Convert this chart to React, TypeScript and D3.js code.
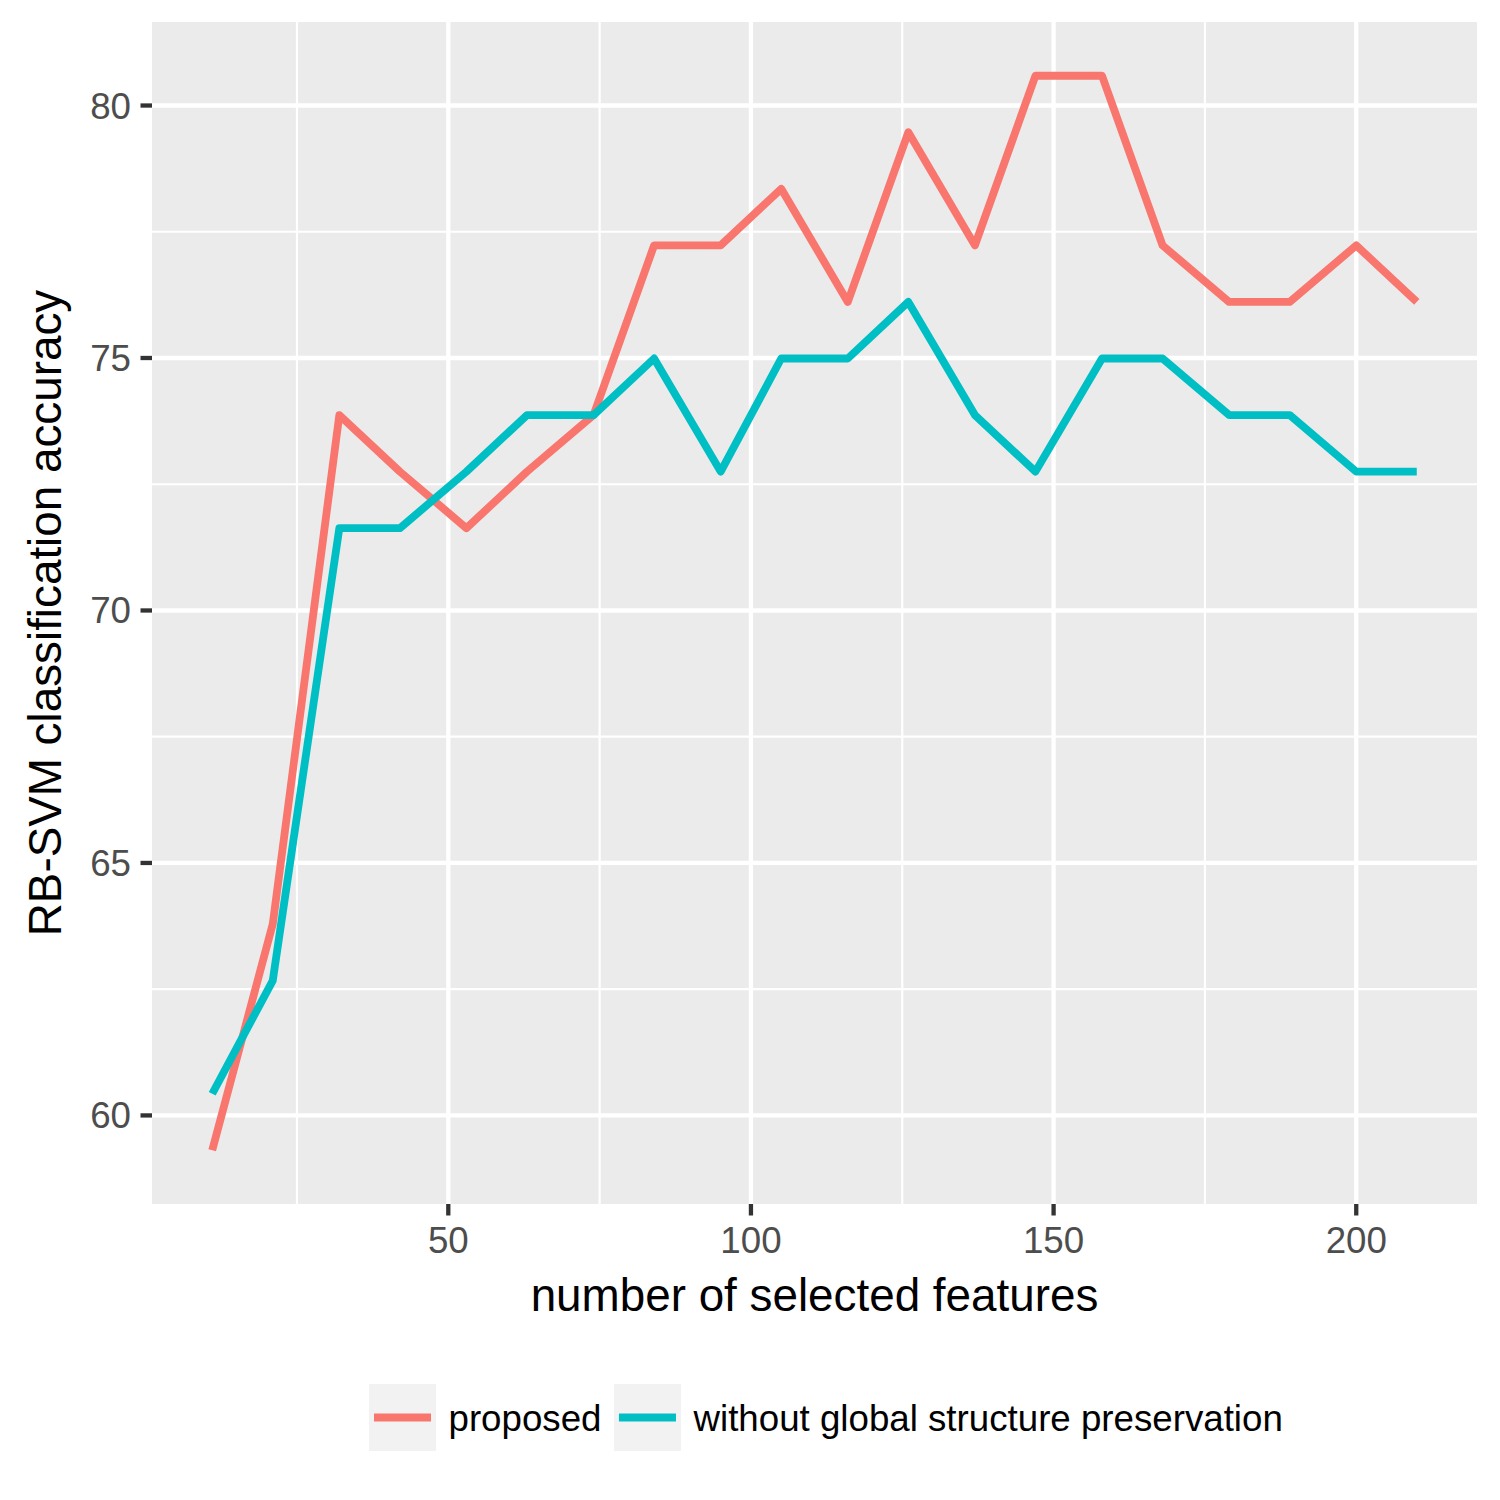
import { useEffect, useRef } from "react";
import * as d3 from "d3";

// number of selected features (x) and accuracies per method
const features = [11, 21, 32, 42, 53, 63, 74, 84, 95, 105, 116, 126, 137, 147, 158, 168, 179, 189, 200, 210];
const proposed = [
  59.31, 63.79, 73.87, 72.75, 71.63, 72.75, 73.87, 77.23, 77.23, 78.35,
  76.11, 79.47, 77.23, 80.59, 80.59, 77.23, 76.11, 76.11, 77.23, 76.11,
];
const withoutGlobal = [
  60.43, 62.67, 71.63, 71.63, 72.75, 73.87, 73.87, 74.99, 72.75, 74.99,
  74.99, 76.11, 73.87, 72.75, 74.99, 74.99, 73.87, 73.87, 72.75, 72.75,
];
const seriesNames = ["proposed", "without global structure preservation"];
const seriesColors = ["#F8766D", "#00BFC4"];
const xTicks = [50, 100, 150, 200];
const xMinor = [25, 75, 125, 175];
const yTicks = [60, 65, 70, 75, 80];
const yMinor = [62.5, 67.5, 72.5, 77.5];
const xTitle = "number of selected features";
const yTitle = "RB-SVM classification accuracy";

interface Pt {
  x: number;
  y: number;
}

function Chart() {
  const ref = useRef<SVGSVGElement | null>(null);

  useEffect(() => {
    const svg = d3.select(ref.current);
    svg.selectAll("*").remove();

    const W = 1500;
    const H = 1500;
    const p = { l: 152, r: 1477, t: 22, b: 1204 };
    const font = "'Liberation Sans', Arial, sans-serif";

    svg.append("rect").attr("width", W).attr("height", H).attr("fill", "#fff");

    const allY = [...proposed, ...withoutGlobal];
    const [xMin, xMax] = d3.extent(features) as [number, number];
    const [yMin, yMax] = d3.extent(allY) as [number, number];
    const xPad = (xMax - xMin) * 0.05;
    const yPad = (yMax - yMin) * 0.05;

    const x = d3.scaleLinear().domain([xMin - xPad, xMax + xPad]).range([p.l, p.r]);
    const y = d3.scaleLinear().domain([yMin - yPad, yMax + yPad]).range([p.b, p.t]);

    // panel
    svg
      .append("rect")
      .attr("x", p.l)
      .attr("y", p.t)
      .attr("width", p.r - p.l)
      .attr("height", p.b - p.t)
      .attr("fill", "#EBEBEB");

    // gridlines
    const grid = svg.append("g").attr("stroke", "#fff");
    yMinor.forEach((v) => {
      grid.append("line").attr("x1", p.l).attr("x2", p.r).attr("y1", y(v)).attr("y2", y(v)).attr("stroke-width", 2.2);
    });
    xMinor.forEach((v) => {
      grid.append("line").attr("y1", p.t).attr("y2", p.b).attr("x1", x(v)).attr("x2", x(v)).attr("stroke-width", 2.2);
    });
    yTicks.forEach((v) => {
      grid.append("line").attr("x1", p.l).attr("x2", p.r).attr("y1", y(v)).attr("y2", y(v)).attr("stroke-width", 4.3);
    });
    xTicks.forEach((v) => {
      grid.append("line").attr("y1", p.t).attr("y2", p.b).attr("x1", x(v)).attr("x2", x(v)).attr("stroke-width", 4.3);
    });

    // lines
    const line = d3
      .line<Pt>()
      .x((d) => x(d.x))
      .y((d) => y(d.y));

    [proposed, withoutGlobal].forEach((vals, si) => {
      const pts: Pt[] = features.map((f, i) => ({ x: f, y: vals[i] }));
      svg
        .append("path")
        .datum(pts)
        .attr("fill", "none")
        .attr("stroke", seriesColors[si])
        .attr("stroke-width", 7.8)
        .attr("stroke-linejoin", "round")
        .attr("stroke-linecap", "butt")
        .attr("d", line);
    });

    // axes ticks + labels
    const tickLen = 11.5;
    yTicks.forEach((v) => {
      svg
        .append("line")
        .attr("x1", p.l - tickLen)
        .attr("x2", p.l)
        .attr("y1", y(v))
        .attr("y2", y(v))
        .attr("stroke", "#333333")
        .attr("stroke-width", 4.3);
      svg
        .append("text")
        .attr("x", p.l - tickLen - 9.5)
        .attr("y", y(v) + 13)
        .attr("text-anchor", "end")
        .attr("font-family", font)
        .attr("font-size", 36.7)
        .attr("fill", "#4D4D4D")
        .text(String(v));
    });
    xTicks.forEach((v) => {
      svg
        .append("line")
        .attr("x1", x(v))
        .attr("x2", x(v))
        .attr("y1", p.b)
        .attr("y2", p.b + tickLen)
        .attr("stroke", "#333333")
        .attr("stroke-width", 4.3);
      svg
        .append("text")
        .attr("x", x(v))
        .attr("y", 1253)
        .attr("text-anchor", "middle")
        .attr("font-family", font)
        .attr("font-size", 36.7)
        .attr("fill", "#4D4D4D")
        .text(String(v));
    });

    // titles
    svg
      .append("text")
      .attr("x", (p.l + p.r) / 2)
      .attr("y", 1311)
      .attr("text-anchor", "middle")
      .attr("font-family", font)
      .attr("font-size", 45.8)
      .attr("fill", "#000")
      .text(xTitle);
    svg
      .append("text")
      .attr("transform", `translate(61,${(p.t + p.b) / 2}) rotate(-90)`)
      .attr("text-anchor", "middle")
      .attr("font-family", font)
      .attr("font-size", 45.8)
      .attr("fill", "#000")
      .text(yTitle);

    // legend
    const key = 67;
    const keyTop = 1384;
    let cx = 369;
    seriesNames.forEach((name, i) => {
      svg
        .append("rect")
        .attr("x", cx)
        .attr("y", keyTop)
        .attr("width", key)
        .attr("height", key)
        .attr("fill", "#F2F2F2");
      svg
        .append("line")
        .attr("x1", cx + 5)
        .attr("x2", cx + key - 5)
        .attr("y1", keyTop + key / 2)
        .attr("y2", keyTop + key / 2)
        .attr("stroke", seriesColors[i])
        .attr("stroke-width", 7.8);
      const t = svg
        .append("text")
        .attr("x", cx + key + 12.5)
        .attr("y", 1431)
        .attr("font-family", font)
        .attr("font-size", 36.7)
        .attr("fill", "#000")
        .text(name);
      const tw = (t.node() as SVGTextElement | null)?.getComputedTextLength() ?? 0;
      cx = cx + key + 12.5 + tw + 12.5;
    });
  }, []);

  return (
    <svg
      ref={ref}
      width={1500}
      height={1500}
      style={{ position: "absolute", left: 0, top: 0, display: "block" }}
    />
  );
}

export default function App() {
  return <Chart />;
}
